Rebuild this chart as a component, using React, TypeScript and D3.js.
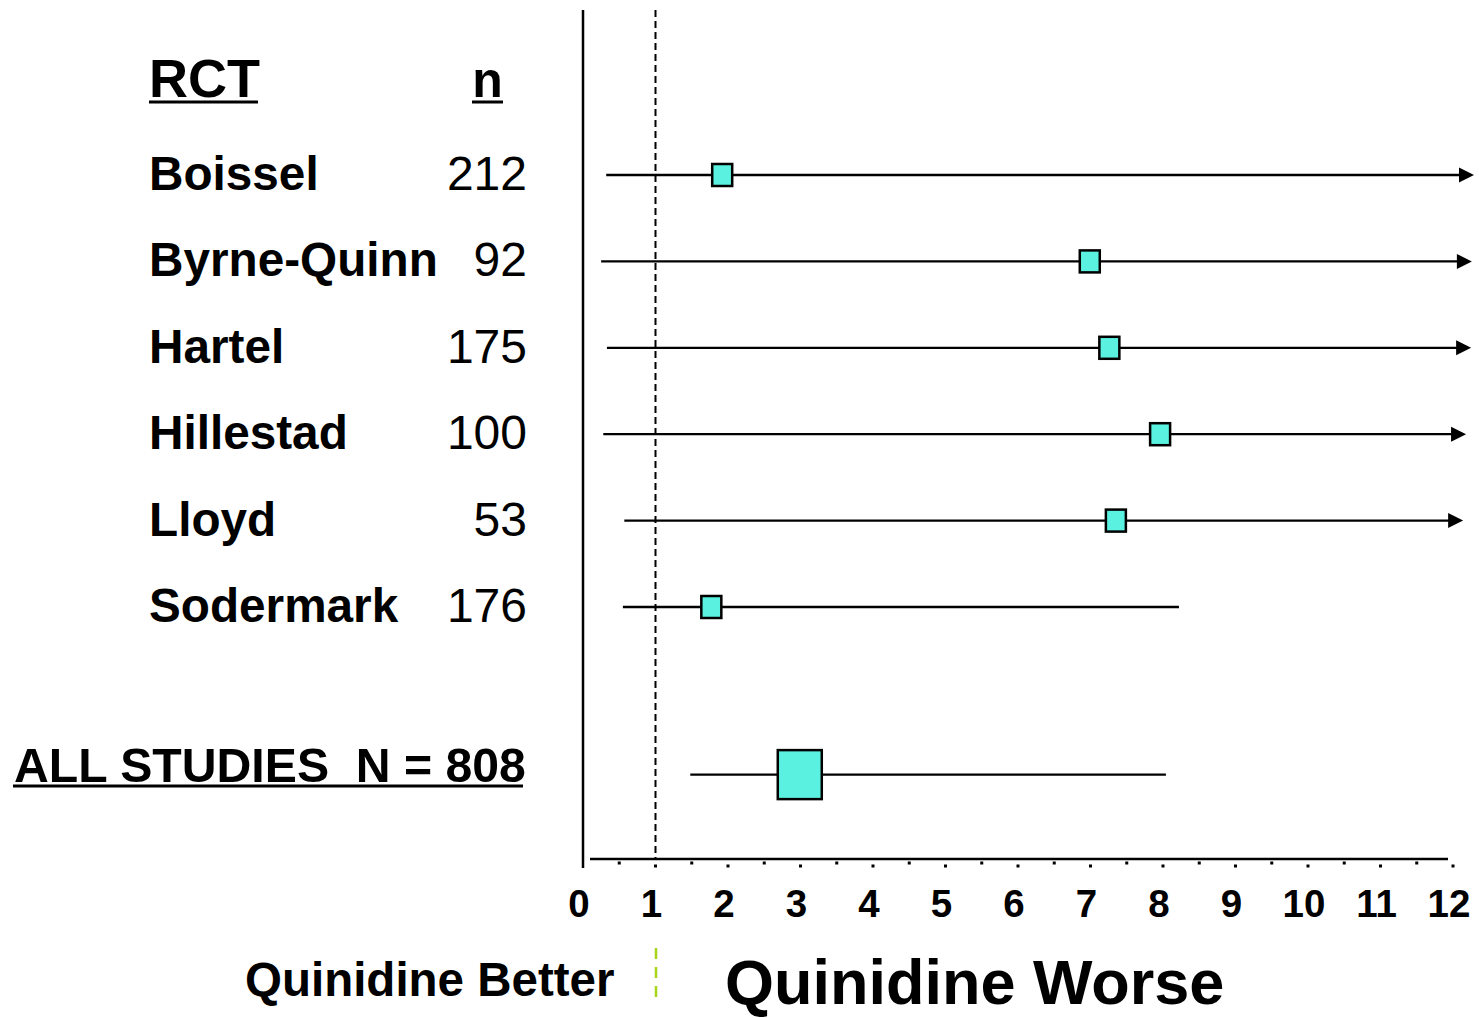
import React from "react";
import * as d3 from "d3";

const studies = ["Boissel", "Byrne-Quinn", "Hartel", "Hillestad", "Lloyd", "Sodermark"];
const sampleSizes = [212, 92, 175, 100, 53, 176];
const pointEstimates = [1.92, 6.99, 7.26, 7.96, 7.35, 1.77];
const lowerBounds = [0.32, 0.25, 0.33, 0.28, 0.57, 0.55];
const upperBounds = [12.29, 12.26, 12.25, 12.18, 12.14, 8.22];
const upperIsArrow = [true, true, true, true, true, false];

const summaryLabel = "ALL STUDIES  N = 808";
const summaryEstimate = 2.99;
const summaryLower = 1.48;
const summaryUpper = 8.04;
const summaryRow = 6.94;

const xTicks = d3.range(0, 13);
const minorTicks = d3.range(0.5, 12.01, 0.5);

const W = 1479;
const H = 1018;
const FONT = "'Liberation Sans', Arial, Helvetica, sans-serif";

export default function App() {
  const x = d3.scaleLinear().domain([0, 12]).range([583, 1453]);
  const y = d3.scaleLinear().domain([0, 5]).range([175, 607]);
  const axisY = 859;

  const arrow = (xe: number, ye: number) =>
    `M${xe},${ye} L${xe - 15},${ye - 7.5} L${xe - 15},${ye + 7.5} Z`;

  return (
    <svg
      width={W}
      height={H}
      style={{ position: "absolute", left: 0, top: 0, background: "#fff" }}
      fontFamily={FONT}
    >
      {/* vertical axis */}
      <line x1={x(0)} x2={x(0)} y1={10} y2={868} stroke="#000" strokeWidth={2.5} />
      {/* null line */}
      <line x1={x(1)} x2={x(1)} y1={10} y2={858} stroke="#000" strokeWidth={2} strokeDasharray="7,4" />
      {/* horizontal axis */}
      <line x1={590} x2={1448} y1={axisY} y2={axisY} stroke="#000" strokeWidth={2.5} />
      {minorTicks.map((t) => (
        <rect
          key={t}
          x={x(t) - 1.5}
          y={(Number.isInteger(t) ? 866 : 863) - 1.5}
          width={3}
          height={3}
          fill="#000"
        />
      ))}
      {xTicks.map((t) => (
        <text
          key={t}
          x={x(t) - 4}
          y={917}
          textAnchor="middle"
          fontWeight="bold"
          fontSize={38.5}
        >
          {t}
        </text>
      ))}

      {/* headers */}
      <text x={149} y={97} fontWeight="bold" fontSize={54}>RCT</text>
      <rect x={149} y={100.5} width={109} height={3} fill="#000" />
      <text x={487.5} y={97} textAnchor="middle" fontWeight="bold" fontSize={50}>n</text>
      <rect x={472} y={100.5} width={31} height={3} fill="#000" />

      {/* study rows */}
      {studies.map((s, i) => {
        const yy = y(i);
        const xe = x(upperBounds[i]);
        return (
          <g key={s}>
            <text x={149} y={yy + 15} fontWeight="bold" fontSize={47.7}>{s}</text>
            <text x={527} y={yy + 15} textAnchor="end" fontSize={48}>{sampleSizes[i]}</text>
            <line
              x1={x(lowerBounds[i])}
              x2={upperIsArrow[i] ? xe - 12 : xe}
              y1={yy}
              y2={yy}
              stroke="#000"
              strokeWidth={2.3}
            />
            {upperIsArrow[i] && <path d={arrow(xe, yy)} fill="#000" />}
            <rect
              x={x(pointEstimates[i]) - 10}
              y={yy - 11}
              width={20}
              height={22}
              fill="#5bf1e0"
              stroke="#000"
              strokeWidth={2.5}
            />
          </g>
        );
      })}

      {/* summary */}
      {(() => {
        const yy = y(summaryRow);
        return (
          <g>
            <text x={14} y={782} fontWeight="bold" fontSize={48.2} style={{ whiteSpace: "pre" }}>
              {summaryLabel}
            </text>
            <rect x={13} y={784.5} width={510} height={3} fill="#000" />
            <line x1={x(summaryLower)} x2={x(summaryUpper)} y1={yy} y2={yy} stroke="#000" strokeWidth={2.3} />
            <rect
              x={x(summaryEstimate) - 22}
              y={yy - 24.5}
              width={44}
              height={49}
              fill="#5bf1e0"
              stroke="#000"
              strokeWidth={2.5}
            />
          </g>
        );
      })()}

      {/* bottom labels */}
      <line x1={656} x2={656} y1={948} y2={997} stroke="#a8d41a" strokeWidth={2.5} strokeDasharray="11,8" />
      <text x={245} y={996} fontWeight="bold" fontSize={47.5}>Quinidine Better</text>
      <text x={725} y={1004} fontWeight="bold" fontSize={63}>Quinidine Worse</text>
    </svg>
  );
}
